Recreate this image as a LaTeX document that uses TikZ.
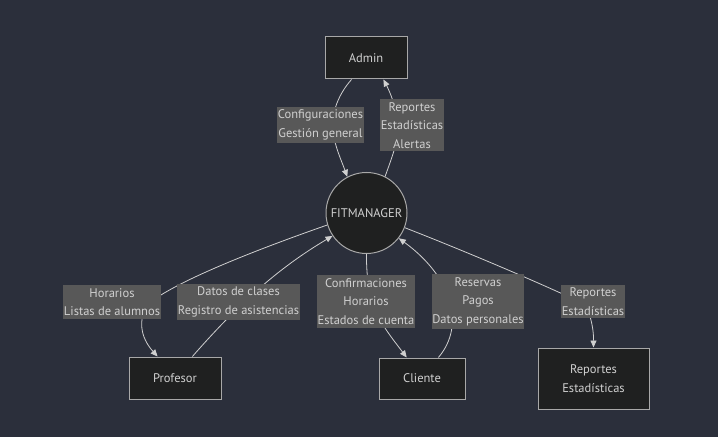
\documentclass[tikz,border=0pt]{standalone}
\usepackage{fontspec}
\setmainfont{PT Sans}
\usetikzlibrary{arrows.meta}
\definecolor{bg}{RGB}{43,47,59}
\definecolor{nodefill}{HTML}{1F2020}
\definecolor{nodeline}{HTML}{A8A8A8}
\definecolor{edgecol}{HTML}{D0D0D0}
\definecolor{labfill}{HTML}{585858}
\definecolor{txt}{HTML}{D0D0D0}
\begin{document}
\begin{tikzpicture}[x=1pt,y=1pt,
  txtfont/.style={font=\fontsize{12.5}{18.5}\selectfont},
  box/.style={draw=nodeline, line width=1pt, fill=nodefill, text=txt, txtfont, align=center, inner sep=0pt},
  circ/.style={box, circle, minimum size=81pt},
  lab/.style={fill=labfill, text=txt, txtfont, align=center, inner xsep=0.5pt, inner ysep=3pt},
  conn/.style={draw=edgecol, line width=0.8pt},
  arr/.style={conn, -{Triangle[length=7pt,width=6pt]}}]
\fill[bg] (0,0) rectangle (718,437);
\useasboundingbox (0,0) rectangle (718,437);

% nodes
\node[box, minimum width=82pt, minimum height=42pt] (admin) at (366,379) {Admin};
\node[circ] (fit) at (366.5,224) {FITMANAGER};
\node[box, minimum width=92pt, minimum height=42pt] (prof) at (175,59) {Profesor};
\node[box, minimum width=86pt, minimum height=41pt] (cli) at (422,58.5) {Cliente};
\node[box, minimum width=111pt, minimum height=61pt] (rep) at (593.5,58.5) {Reportes\\Estadísticas};

% label positions
\coordinate (c1) at (320.5,312);
\coordinate (c2) at (412,311.5);
\coordinate (c3) at (112,135);
\coordinate (c4) at (238.5,135);
\coordinate (c5) at (366,135.5);
\coordinate (c6) at (478,135.5);
\coordinate (c7) at (593,135.5);

% connectors
\draw[arr] (admin.236) .. controls (336,340) and (331,320) .. (333,305) .. controls (335,290) and (342,275) .. (fit.118);
\draw[arr] (fit.63) .. controls (392,280) and (400,300) .. (398,315) .. controls (396,330) and (390,345) .. (admin.309);
\draw[arr] (fit.197) .. controls (250,185) and (175,155) .. (148,133) .. controls (138,118) and (140,100) .. (prof.129);
\draw[arr] (prof.51) .. controls (240,135) and (280,170) .. (fit.214);
\draw[arr] (fit.270) .. controls (366,130) and (382,112) .. (cli.126);
\draw[arr] (cli.52) .. controls (466,112) and (452,160) .. (fit.322);
\draw[arr] (fit.339) .. controls (480,180) and (560,145) .. (586,132) .. controls (594,112) and (593.5,100) .. (rep.north);

% labels
\node[lab] (l1) at (c1) {Configuraciones\\Gestión general};
\node[lab] (l2) at (c2) {Reportes\\Estadísticas\\Alertas};
\node[lab] (l3) at (c3) {Horarios\\Listas de alumnos};
\node[lab] (l4) at (c4) {Datos de clases\\Registro de asistencias};
\node[lab] (l5) at (c5) {Confirmaciones\\Horarios\\Estados de cuenta};
\node[lab] (l6) at (c6) {Reservas\\Pagos\\Datos personales};
\node[lab] (l7) at (c7) {Reportes\\Estadísticas};
\end{tikzpicture}
\end{document}
